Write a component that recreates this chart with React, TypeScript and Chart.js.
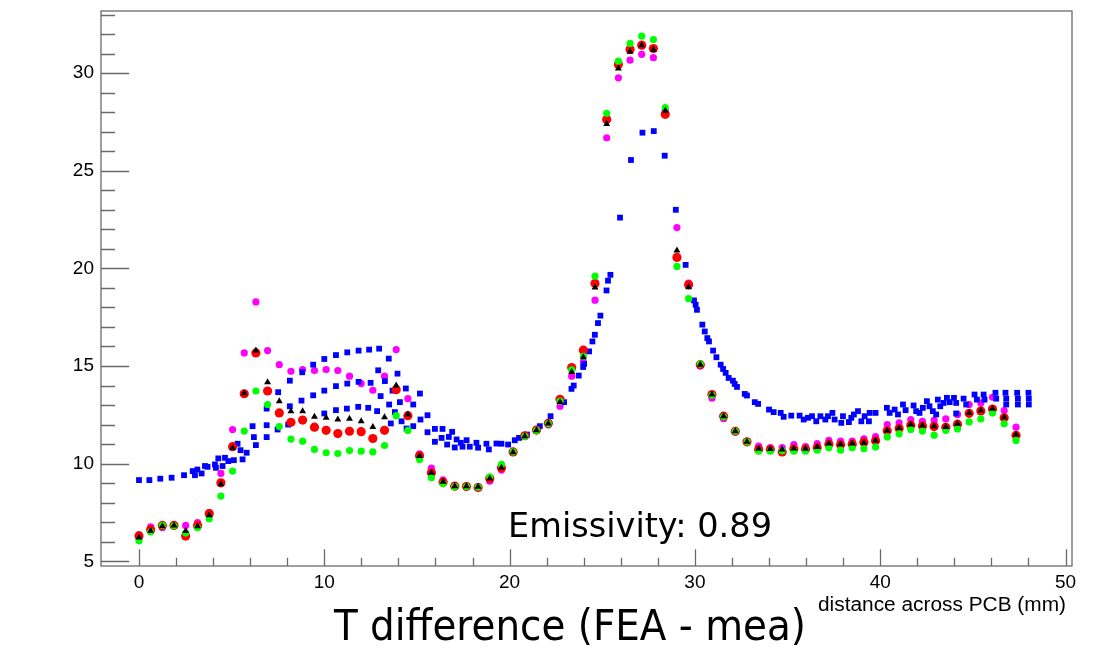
import React, { useEffect, useRef } from "react";
import { Chart, registerables } from "chart.js";

Chart.register(...registerables);

// x positions of the measured points (mm)
const measX = [
  0, 0.63, 1.26, 1.89, 2.52, 3.16, 3.79, 4.42, 5.05, 5.68, 6.31, 6.94, 7.57, 8.2, 8.83, 9.47,
  10.1, 10.73, 11.36, 11.99, 12.62, 13.25, 13.88, 14.51, 15.14, 15.78, 16.41, 17.04, 17.67, 18.3,
  18.93, 19.56, 20.19, 20.82, 21.45, 22.09, 22.72, 23.35, 23.98, 24.61, 25.24, 25.87, 26.5, 27.13,
  27.76, 28.4, 29.03, 29.66, 30.29, 30.92, 31.55, 32.18, 32.81, 33.44, 34.07, 34.71, 35.34, 35.97,
  36.6, 37.23, 37.86, 38.49, 39.12, 39.75, 40.38, 41.02, 41.65, 42.28, 42.91, 43.54, 44.17, 44.8,
  45.43, 46.06, 46.69, 47.33,
];

const magentaY = [
  6.35, 6.76, 6.72, 6.84, 6.84, 6.98, 7.49, 9.5, 11.75, 15.67, 18.28, 15.79, 15.07, 14.73, 14.82, 14.77,
  14.82, 14.77, 14.48, 14.1, 13.76, 14.48, 15.84, 13.33, 10.5, 9.77, 9.17, 8.87, 8.87, 8.82,
  9.1, 9.67, 10.59, 11.41, 11.71, 11.98, 12.94, 14.48, 15.2, 18.37, 26.69, 29.76, 30.66, 30.96,
  30.79, 28.1, 22.09, 19.25, 15.0, 13.35, 12.3, 11.62, 11.1, 10.9, 10.82, 10.82, 10.98, 10.87,
  11.03, 11.2, 11.15, 11.15, 11.27, 11.38, 12.0, 12.09, 12.26, 12.17, 12.22, 12.29, 12.52, 13.03,
  13.11, 13.4, 12.72, 11.87,
];

const redY = [
  6.3, 6.62, 6.84, 6.84, 6.29, 6.84, 7.44, 9.02, 10.87, 13.58, 15.67, 13.72, 12.6, 12.12, 12.23, 11.87,
  11.71, 11.54, 11.66, 11.64, 11.29, 11.71, 13.79, 12.46, 10.4, 9.53, 9.05, 8.85, 8.83, 8.78,
  9.24, 9.79, 10.6, 11.43, 11.72, 12.07, 13.3, 14.92, 15.81, 19.23, 27.63, 30.44, 31.21, 31.43,
  31.26, 27.89, 20.56, 19.16, 15.07, 13.54, 12.43, 11.66, 11.12, 10.72, 10.72, 10.6, 10.75, 10.74,
  10.82, 11.0, 10.97, 11.0, 11.1, 11.17, 11.68, 11.8, 11.97, 11.93, 11.9, 11.86, 12.02, 12.58,
  12.7, 12.8, 12.35, 11.45,
];

const blackY = [
  6.22, 6.55, 6.8, 6.84, 6.55, 6.8, 7.36, 8.95, 10.8, 13.6, 15.8, 14.17, 13.2, 12.69, 12.69, 12.4,
  12.35, 12.26, 12.3, 12.17, 11.88, 12.38, 14.0, 12.52, 10.39, 9.53, 9.08, 8.85, 8.85, 8.82,
  9.24, 9.79, 10.59, 11.41, 11.71, 12.06, 13.16, 14.7, 15.45, 19.02, 27.39, 30.24, 31.09, 31.42,
  31.2, 28.07, 20.92, 19.04, 15.07, 13.54, 12.43, 11.66, 11.12, 10.76, 10.75, 10.72, 10.78, 10.76,
  10.85, 11.03, 11.0, 11.03, 11.07, 11.19, 11.7, 11.83, 12.0, 11.95, 11.92, 11.88, 12.04, 12.6,
  12.72, 12.81, 12.38, 11.49,
];

const greenY = [
  6.05, 6.5, 6.84, 6.82, 6.45, 6.72, 7.18, 8.34, 9.62, 11.67, 13.72, 13.03, 11.9, 11.26, 11.15, 10.73,
  10.56, 10.52, 10.67, 10.64, 10.6, 10.93, 12.46, 11.7, 10.21, 9.28, 8.98, 8.82, 8.83, 8.8,
  9.33, 9.96, 10.6, 11.4, 11.7, 12.05, 13.2, 14.8, 15.5, 19.6, 27.94, 30.61, 31.52, 31.89,
  31.72, 28.23, 20.1, 18.45, 15.1, 13.5, 12.4, 11.66, 11.12, 10.64, 10.64, 10.66, 10.64, 10.64,
  10.69, 10.81, 10.69, 10.81, 10.76, 10.85, 11.37, 11.53, 11.75, 11.67, 11.46, 11.71, 11.78, 12.14,
  12.29, 12.6, 12.04, 11.19,
];

// FEA (blue) points
const blueX = [
  0, 0.56, 1.15, 1.76, 2.43, 2.9, 3.02, 3.15, 3.38, 3.56, 3.7, 4.1, 4.15, 4.28, 4.51, 4.64, 4.82,
  5.12, 5.32, 5.48, 5.59, 5.81, 6.13, 6.2, 6.31, 6.89, 6.89, 6.89, 7.48, 7.51, 8.05, 8.14, 8.14,
  8.77, 8.81, 9.4, 9.4, 10.0, 10.0, 10.0, 10.63, 10.63, 10.63, 11.24, 11.24, 11.22, 11.85, 11.85,
  11.83, 12.42, 12.5, 12.37, 12.96, 12.91, 12.85, 13.48, 13.27, 13.04, 13.95, 13.68, 13.5, 13.81,
  14.08, 14.4, 14.8, 13.59, 14.17, 14.44, 14.8, 15.16, 15.19, 15.57, 15.57, 15.97, 16.38, 15.97,
  16.33, 16.63, 16.72, 16.9, 17.04, 17.14, 17.37, 17.68, 17.46, 17.85, 18.21, 18.3, 18.75, 18.88,
  19.29, 19.56, 19.92, 20.28, 20.51, 20.94, 21.63, 22.21, 22.94, 23.34, 23.46, 23.73, 23.97, 24.02,
  24.29, 24.47, 24.6, 24.77, 24.9, 25.23, 25.31, 25.44, 25.96, 26.55, 27.17, 27.78, 28.37, 28.97,
  29.5, 29.95, 30.04, 30.11, 30.4, 30.53, 30.67, 30.76, 30.98, 31.16, 31.39, 31.52, 31.66, 31.82,
  32.05, 32.15, 32.27, 32.69, 32.81, 33.23, 33.41, 34.0, 34.25, 34.63, 34.79, 35.2, 35.65, 35.87,
  36.1, 36.32, 36.55, 36.77, 37.04, 37.18, 37.42, 37.54, 37.9, 37.99, 38.31, 38.44, 38.58, 38.8,
  38.98, 39.16, 39.39, 39.43, 39.75, 40.36, 40.51, 40.78, 40.96, 41.23, 41.37, 41.8, 41.94, 42.12,
  42.3, 42.52, 42.66, 42.84, 43.02, 43.11, 43.24, 43.42, 43.6, 43.75, 43.98, 44.1, 44.1, 44.5,
  44.64, 45.09, 45.22, 45.58, 45.63, 46.22, 46.26, 46.76, 46.8, 46.8, 47.39, 47.43, 47.43, 48.0,
  48.02, 48.02,
];
const blueY = [
  9.16, 9.16, 9.23, 9.28, 9.41, 9.62, 9.41, 9.7, 9.5, 9.88, 9.84, 9.96, 9.79, 10.27, 9.88, 10.3, 10.13,
  10.18, 11.02, 10.69, 10.22, 10.56, 11.92, 11.36, 10.95, 12.82, 11.97, 11.36, 11.75, 13.66, 12.0, 14.25, 12.94,
  13.23, 14.68, 15.07, 13.5, 15.36, 13.74, 12.57, 15.56, 13.97, 12.74, 15.7, 14.1, 12.82, 15.79, 14.19,
  12.91, 15.84, 14.14, 12.86, 15.89, 14.78, 12.69, 15.38, 14.23, 13.46, 14.61, 13.74, 13.03, 12.64,
  13.15, 13.85, 13.03, 12.06, 12.17, 11.8, 11.92, 13.59, 12.26, 12.48, 11.61, 11.78, 11.78, 11.12,
  11.32, 10.98, 11.37, 11.63, 10.83, 11.24, 11.07, 11.2, 10.87, 10.87, 11.07, 10.82, 11.02, 10.73,
  11.03, 11.02, 10.98, 11.2, 11.32, 11.49, 11.92, 12.43, 13.15, 13.83, 14.0, 14.51, 14.95, 15.11,
  15.75, 16.26, 16.6, 17.2, 17.58, 18.87, 19.37, 19.67, 22.6, 25.55, 26.95, 27.03, 25.77, 23.0,
  20.18, 18.36, 18.14, 17.88, 17.12, 16.77, 16.43, 16.26, 15.79, 15.45, 15.07, 14.85, 14.65, 14.39,
  14.25, 14.08, 13.93, 13.57, 13.49, 13.15, 13.06, 12.77, 12.64, 12.6, 12.4, 12.46, 12.46, 12.26,
  12.35, 12.43, 12.17, 12.43, 12.26, 12.43, 12.6, 12.26, 12.09, 12.43, 12.13, 12.35, 12.52, 12.69,
  12.17, 12.43, 12.17, 12.6, 12.6, 12.86, 12.6, 12.77, 12.52, 13.03, 12.74, 12.98, 12.69, 12.6,
  12.86, 13.2, 12.94, 12.69, 12.52, 13.28, 12.94, 13.11, 13.37, 13.15, 13.37, 13.11, 12.57, 13.33,
  13.03, 13.54, 13.28, 13.54, 13.28, 13.63, 13.33, 13.63, 13.33, 13.03, 13.63, 13.33, 13.03, 13.63,
  13.33, 13.03,
];

const xTickLabels = [0, 10, 20, 30, 40, 50];
const yTickLabels = [5, 10, 15, 20, 25, 30];
const xMinorStep = 2;
const yMinorStep = 1;

const xAxisTitle = "distance across PCB (mm)";
const emissivityText = "Emissivity: 0.89";
const bottomTitle = "T difference (FEA - mea)";

const pts = (xs: number[], ys: number[]) => ys.map((v, i) => ({ x: xs[i], y: v }));

function fitText(ctx: CanvasRenderingContext2D, text: string, left: number, right: number, baseline: number, font: string) {
  ctx.font = font;
  const w = ctx.measureText(text).width;
  ctx.save();
  ctx.translate(left, baseline);
  ctx.scale((right - left) / w, 1);
  ctx.textAlign = "left";
  ctx.textBaseline = "alphabetic";
  ctx.fillStyle = "#000";
  ctx.fillText(text, 0, 0);
  ctx.restore();
}

const rootFrame = {
  id: "rootFrame",
  afterDraw(chart: any) {
    const { ctx, chartArea: a, scales } = chart;
    const x = scales.x;
    const y = scales.y;
    ctx.save();
    ctx.strokeStyle = "#6a6a6a";
    ctx.lineWidth = 1.3;
    ctx.strokeRect(a.left, a.top, a.right - a.left, a.bottom - a.top);
    ctx.beginPath();
    const yMajH = (a.right - a.left) * 0.029;
    const xMajH = (a.bottom - a.top) * 0.03;
    for (let v = Math.ceil(y.min); v <= y.max; v += yMinorStep) {
      const py = Math.round(y.getPixelForValue(v)) + 0.5;
      const len = yTickLabels.includes(v) ? yMajH : yMajH / 2;
      ctx.moveTo(a.left, py);
      ctx.lineTo(a.left + len, py);
    }
    for (let v = 0; v <= x.max; v += xMinorStep) {
      const px = Math.round(x.getPixelForValue(v)) + 0.5;
      const len = xTickLabels.includes(v) ? xMajH : xMajH / 2;
      ctx.moveTo(px, a.bottom);
      ctx.lineTo(px, a.bottom - len);
    }
    ctx.stroke();
    ctx.restore();

    fitText(ctx, xAxisTitle, 818, 1066, 611, "20px 'Liberation Sans', Arial, sans-serif");
    fitText(ctx, emissivityText, 508, 772, 537, "33px 'DejaVu Sans', sans-serif");
    fitText(ctx, bottomTitle, 334, 806, 640, "42px 'DejaVu Sans', sans-serif");
  },
};

export default function App() {
  const ref = useRef<HTMLCanvasElement | null>(null);
  useEffect(() => {
    if (!ref.current) return;
    const tickFont = { family: "'Liberation Sans', Arial, sans-serif", size: 19 };
    const chart = new Chart(ref.current, {
      type: "scatter",
      data: {
        datasets: [
          {
            label: "black",
            data: pts(measX, blackY),
            pointStyle: "triangle",
            pointRadius: 4,
            backgroundColor: "#000000",
            borderColor: "#000000",
            pointBorderWidth: 0,
            order: 0,
          },
          {
            label: "green",
            data: pts(measX, greenY),
            pointStyle: "circle",
            pointRadius: 3.6,
            backgroundColor: "#00ff00",
            borderColor: "#00ff00",
            pointBorderWidth: 0,
            order: 1,
          },
          {
            label: "red",
            data: pts(measX, redY),
            pointStyle: "circle",
            pointRadius: 4.6,
            backgroundColor: "#ff0000",
            borderColor: "#ff0000",
            pointBorderWidth: 0,
            order: 2,
          },
          {
            label: "blue",
            data: pts(blueX, blueY),
            pointStyle: "rect",
            pointRadius: 4.1,
            backgroundColor: "#0000ff",
            borderColor: "#0000ff",
            pointBorderWidth: 0,
            order: 3,
          },
          {
            label: "magenta",
            data: pts(measX, magentaY),
            pointStyle: "circle",
            pointRadius: 3.6,
            backgroundColor: "#ff00ff",
            borderColor: "#ff00ff",
            pointBorderWidth: 0,
            order: 4,
          },
        ],
      },
      options: {
        animation: false,
        responsive: false,
        maintainAspectRatio: false,
        layout: { padding: { top: 11, right: 30, left: 0, bottom: 0 } },
        plugins: { legend: { display: false }, tooltip: { enabled: false } },
        scales: {
          x: {
            type: "linear",
            min: -2.05,
            max: 50.35,
            grid: { display: false, drawTicks: false },
            border: { display: false },
            afterBuildTicks: (s: any) => {
              s.ticks = xTickLabels.map((v) => ({ value: v }));
            },
            afterFit: (s: any) => {
              s.height = 82;
              s.paddingLeft = 0;
              s.paddingRight = 0;
            },
            ticks: { padding: 5, font: tickFont, color: "#000", maxRotation: 0, autoSkip: false },
          },
          y: {
            type: "linear",
            min: 4.76,
            max: 33.18,
            grid: { display: false, drawTicks: false },
            border: { display: false },
            afterBuildTicks: (s: any) => {
              s.ticks = yTickLabels.map((v) => ({ value: v }));
            },
            afterFit: (s: any) => {
              s.width = 101;
              s.paddingTop = 0;
              s.paddingBottom = 0;
            },
            ticks: { padding: 7, font: tickFont, color: "#000", autoSkip: false },
          },
        },
      },
      plugins: [rootFrame],
    });
    return () => chart.destroy();
  }, []);
  return (
    <div style={{ position: "fixed", left: 0, top: 0, width: 1102, height: 648, background: "#fff" }}>
      <canvas ref={ref} width={1102} height={648} />
    </div>
  );
}
